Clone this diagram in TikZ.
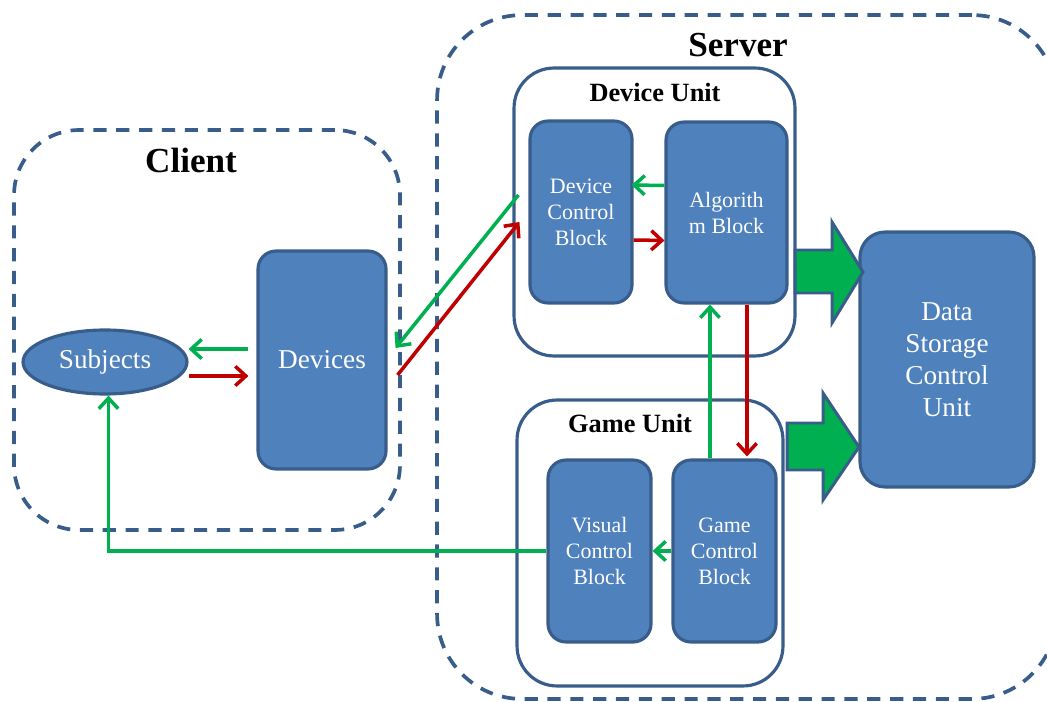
\documentclass[tikz,border=0pt]{standalone}
\usepackage{fontspec}
\setmainfont{Liberation Serif}
\usetikzlibrary{arrows.meta,shapes.geometric}
\definecolor{boxfill}{HTML}{4F81BD}
\definecolor{boxline}{HTML}{385D8A}
\definecolor{agreen}{HTML}{00B050}
\definecolor{ared}{HTML}{C00000}
\tikzset{
  block/.style={draw=boxline, fill=boxfill, line width=1.8pt, rounded corners=0.36cm,
    text=white, align=center, inner sep=0pt,
    font=\fontsize{12.5}{14.8}\selectfont},
  bigblock/.style={block, font=\fontsize{15.5}{18.2}\selectfont},
  unitbox/.style={draw=boxline, line width=1.8pt, rounded corners=0.8cm, inner sep=0pt},
  dashbox/.style={draw=boxline, line width=2.1pt, dash pattern=on 7.5pt off 5.5pt, inner sep=0pt},
  garrow/.style={draw=agreen, line width=2pt, -{Straight Barb[length=6pt,width=11pt]}},
  rarrow/.style={draw=ared, line width=2pt, -{Straight Barb[length=6pt,width=11pt]}},
  bigarrow/.style={draw=boxline, fill=agreen, line width=1.7pt, line join=miter},
  title/.style={font=\fontsize{20}{24}\bfseries\selectfont, inner sep=0pt},
  subtitle/.style={font=\fontsize{15}{18}\bfseries\selectfont, inner sep=0pt}
}
\begin{document}
\begin{tikzpicture}[x=0.02cm,y=-0.02cm]
\useasboundingbox (0,0) rectangle (1047,702);
\clip (0,0) rectangle (1047,702);
% dashed containers
\node[dashbox, rounded corners=1.3cm, minimum width=7.72cm, minimum height=8cm] (client) at (207,330) {};
\node[dashbox, rounded corners=1.7cm, minimum width=12.4cm, minimum height=13.68cm] (server) at (747,357) {};
\node[title] (clientlbl) at (191,160) {Client};
\node[title] (serverlbl) at (738,45) {Server};
% units
\node[unitbox, minimum width=5.62cm, minimum height=5.76cm] (dunit) at (654.5,212) {};
\node[subtitle] (dunitlbl) at (655,92) {Device Unit};
\node[unitbox, minimum width=5.32cm, minimum height=5.72cm] (gunit) at (650,543) {};
\node[subtitle] (gunitlbl) at (630,423) {Game Unit};
% blocks
\node[block, minimum width=2.04cm, minimum height=3.64cm] (dcb) at (581,212) {Device\\Control\\Block};
\node[block, minimum width=2.42cm, minimum height=3.62cm] (ab) at (726.5,212.5) {Algorith\\m Block};
\node[block, minimum width=2.06cm, minimum height=3.64cm] (vcb) at (599.5,551) {Visual\\Control\\Block};
\node[block, minimum width=2.06cm, minimum height=3.64cm] (gcb) at (724.5,551) {Game\\Control\\Block};
\node[bigblock, rounded corners=0.5cm, minimum width=3.48cm, minimum height=5.1cm] (dscu) at (947,359.5) {Data\\Storage\\Control\\Unit};
\node[bigblock, minimum width=2.56cm, minimum height=4.36cm] (dev) at (322,360) {Devices};
\node[bigblock, ellipse, minimum width=3.28cm, minimum height=1.28cm] (subj) at (105,362) {Subjects};
% big arrows
\draw[bigarrow] (795,250) -- (832,250) -- (832,222) -- (863,272) -- (832,323) -- (832,293) -- (795,293) -- cycle;
\draw[bigarrow] (787,423) -- (823,423) -- (823,393) -- (859,447) -- (823,500) -- (823,470) -- (787,470) -- cycle;
% connectors
\draw[garrow] ([shift={(-8,-11)}]dev.west) -- ([shift={(0,-13)}]subj.east);
\draw[rarrow] ([shift={(0,14)}]subj.east) -- ([shift={(-8,16)}]dev.west);
\draw[garrow] ([shift={(-10,-17)}]dcb.west) -- ([shift={(8,-12)}]dev.east);
\draw[rarrow] ([shift={(10,15)}]dev.east) -- ([shift={(-9,10)}]dcb.west);
\draw[garrow] ([shift={(0,-27)}]ab.west) -- ([shift={(-2,-27)}]dcb.east);
\draw[rarrow] ([shift={(0,28)}]dcb.east) -- ([shift={(0,28)}]ab.west);
\draw[garrow] ([shift={(-14.5,0)}]gcb.north) -- ([shift={(-16.5,0)}]ab.south);
\draw[rarrow] ([shift={(20.5,0)}]ab.south) -- ([shift={(22.5,-2)}]gcb.north);
\draw[garrow] (gcb.west) -- (vcb.east);
\draw[garrow] (vcb.west) -| ([xshift=2]subj.south);
\end{tikzpicture}
\end{document}
